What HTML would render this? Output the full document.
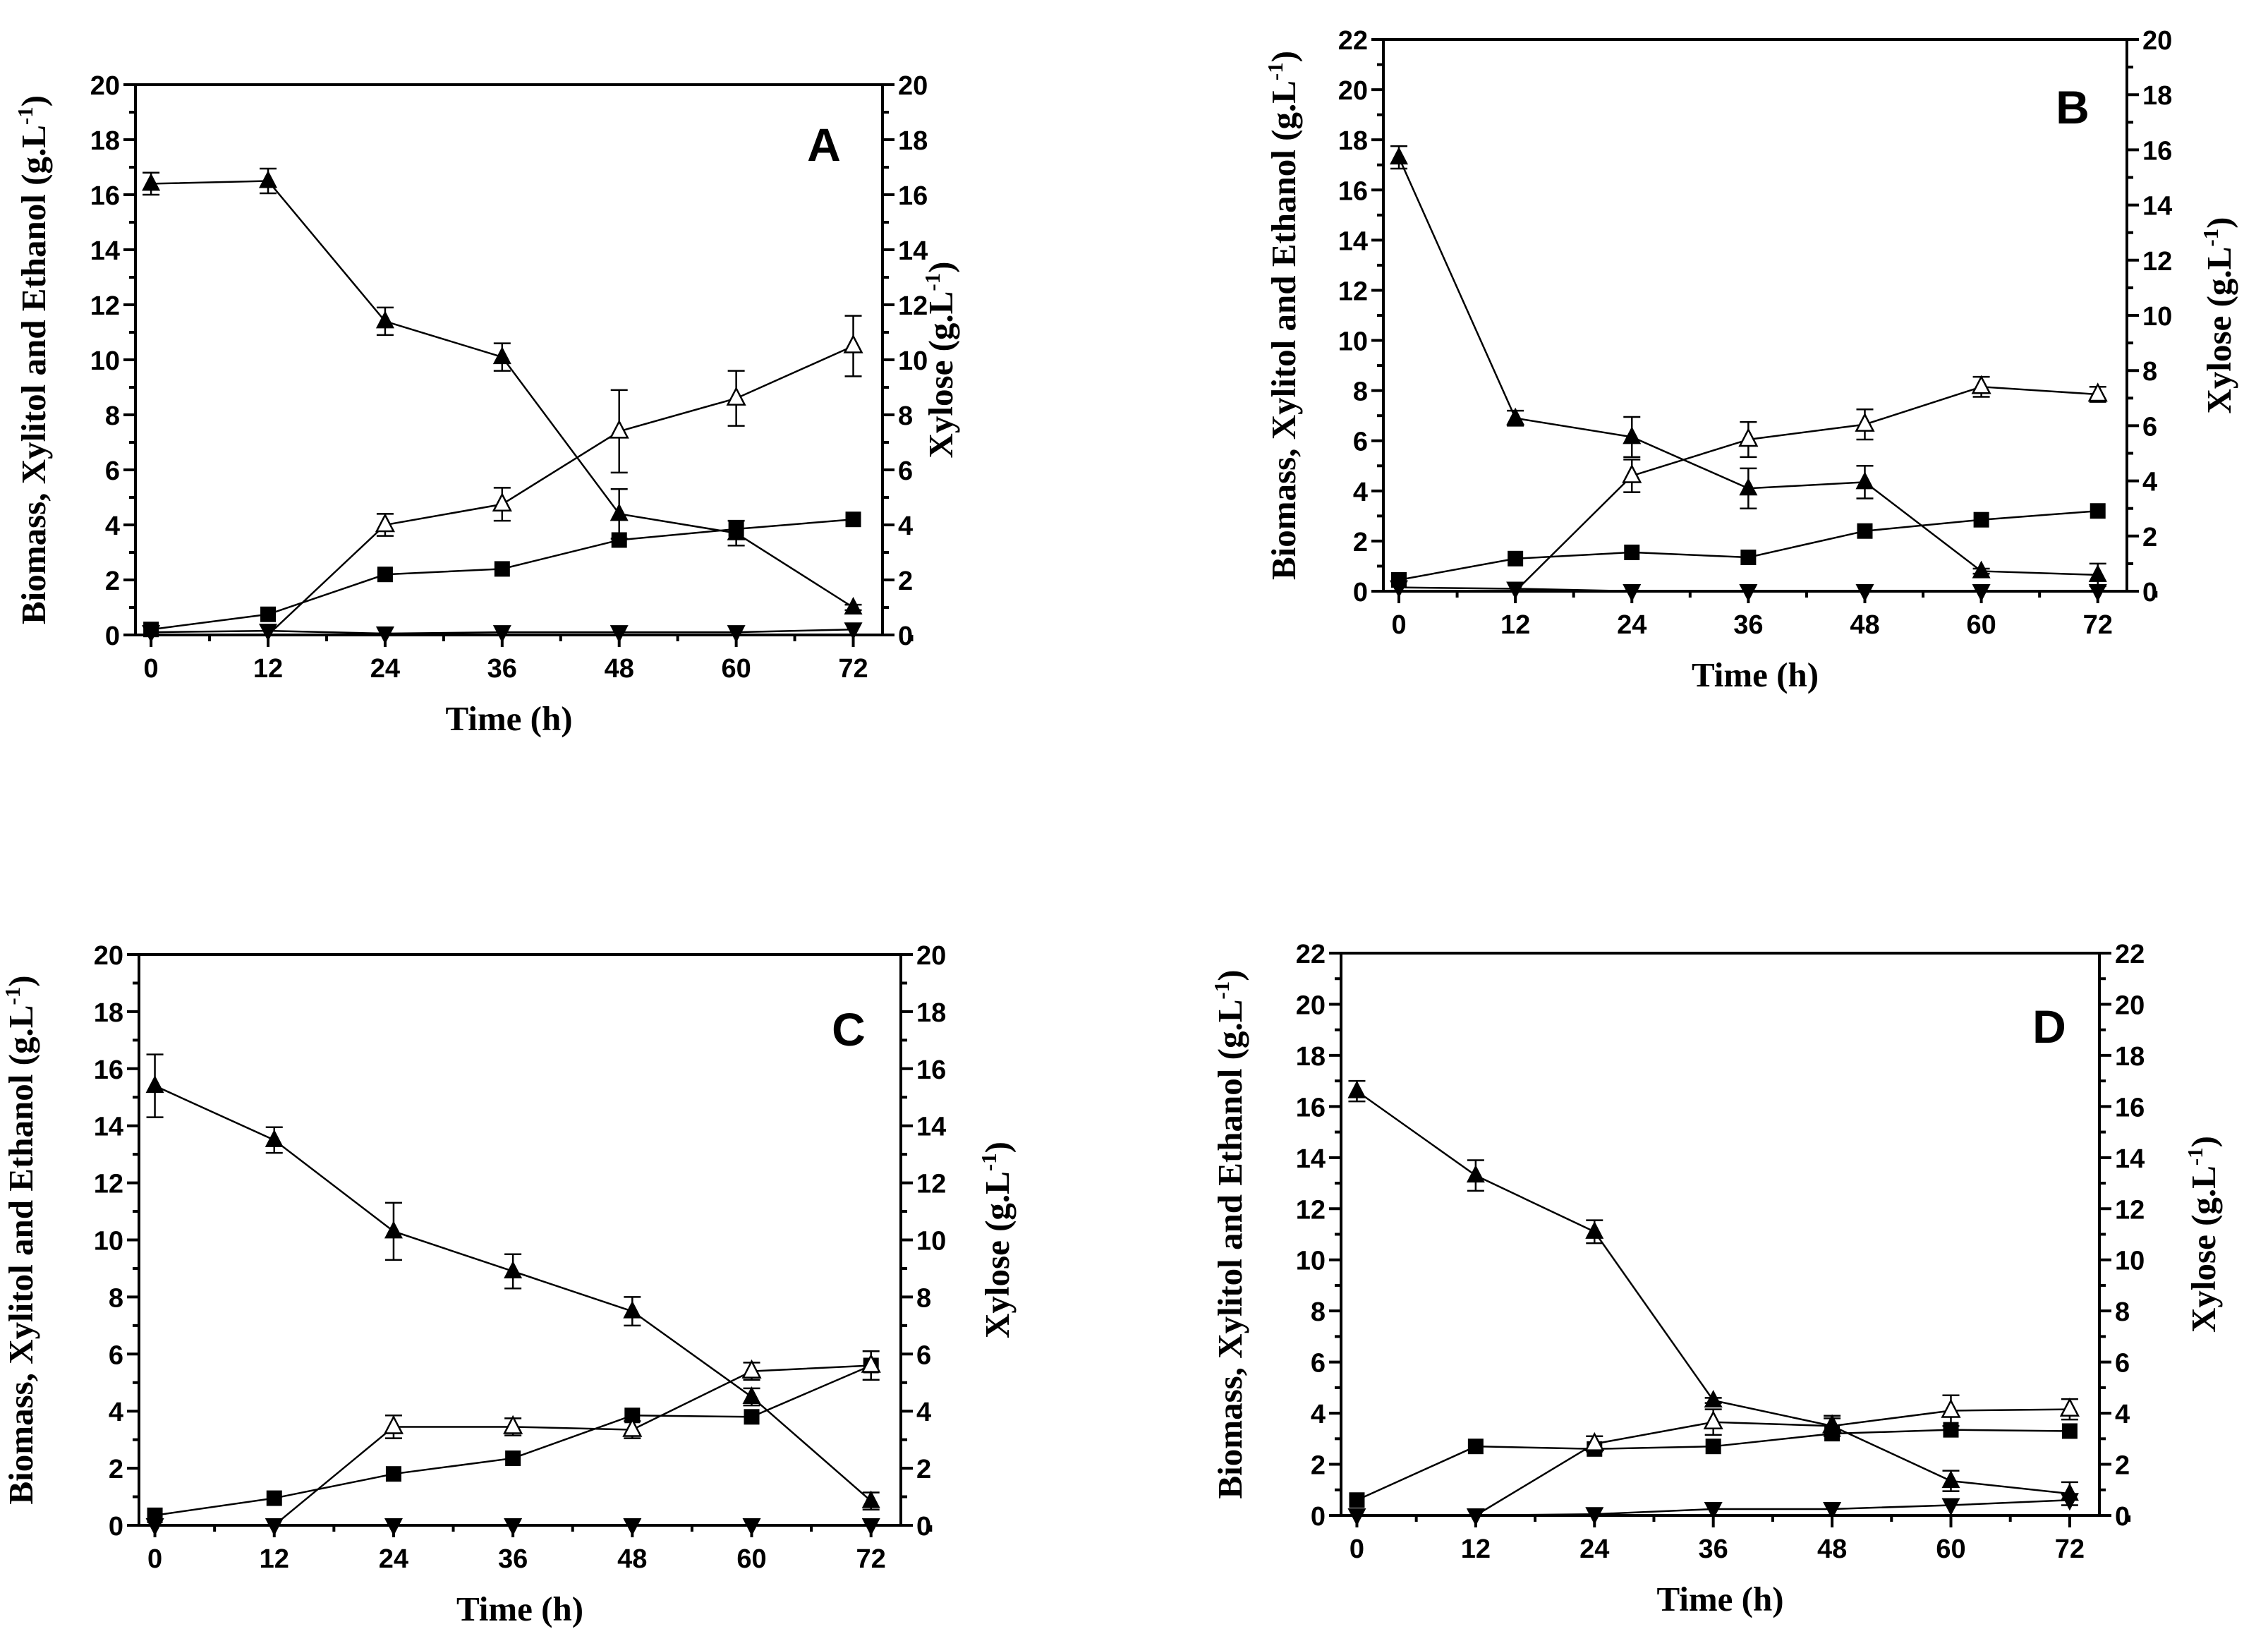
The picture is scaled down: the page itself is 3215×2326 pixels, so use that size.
<!DOCTYPE html>
<html><head><meta charset="utf-8"><style>
html,body{margin:0;padding:0;background:#fff;}
svg{display:block;}
.tk{font-family:"Liberation Sans",Arial,sans-serif;font-weight:bold;font-size:38px;fill:#000;}
.tt{font-family:"Liberation Serif","Times New Roman",serif;font-weight:bold;font-size:49px;fill:#000;}
.pl{font-family:"Liberation Sans",Arial,sans-serif;font-weight:bold;font-size:66px;fill:#000;}
</style></head><body>
<svg id="chart" width="3215" height="2326" viewBox="0 0 3215 2326" xmlns="http://www.w3.org/2000/svg"></svg>
<script>
const timeH = [0, 12, 24, 36, 48, 60, 72];
const xTicks = [0, 12, 24, 36, 48, 60, 72];
// Panel A
const aXylose = [16.4, 16.5, 11.4, 10.1, 4.4, 3.7, 1.0];
const aXyloseErr = [0.4, 0.45, 0.5, 0.5, 0.9, 0.45, 0.1];
const aXylitol = [null, 0, 4.0, 4.75, 7.4, 8.6, 10.5];
const aXylitolErr = [0, 0, 0.4, 0.6, 1.5, 1.0, 1.1];
const aBiomass = [0.2, 0.75, 2.2, 2.4, 3.45, 3.85, 4.2];
const aEthanol = [0.1, 0.15, 0.05, 0.1, 0.1, 0.1, 0.2];
// Panel B
const bXylose = [17.3, 6.9, 6.15, 4.1, 4.35, 0.8, 0.65];
const bXyloseErr = [0.45, 0.3, 0.8, 0.8, 0.65, 0.1, 0.45];
const bXylitol = [null, 0, 4.6, 6.05, 6.65, 8.15, 7.85];
const bXylitolErr = [0, 0, 0.65, 0.7, 0.6, 0.4, 0.3];
const bBiomass = [0.45, 1.3, 1.55, 1.35, 2.4, 2.85, 3.2];
const bEthanol = [0.15, 0.1, 0, 0, 0, 0, 0];
// Panel C
const cXylose = [15.4, 13.5, 10.3, 8.9, 7.5, 4.5, 0.85];
const cXyloseErr = [1.1, 0.45, 1.0, 0.6, 0.5, 0.3, 0.3];
const cXylitol = [null, 0, 3.45, 3.45, 3.35, 5.4, 5.6];
const cXylitolErr = [0, 0, 0.4, 0.3, 0.3, 0.3, 0.5];
const cBiomass = [0.35, 0.95, 1.8, 2.35, 3.85, 3.8, 5.6];
const cEthanol = [0, 0, 0, 0, 0, 0, 0];
// Panel D
const dXylose = [16.6, 13.3, 11.1, 4.5, 3.5, 1.35, 0.85];
const dXyloseErr = [0.4, 0.6, 0.45, 0.1, 0.3, 0.4, 0.45];
const dXylitol = [null, 0, 2.8, 3.65, 3.5, 4.1, 4.15];
const dXylitolErr = [0, 0, 0.3, 0.5, 0.4, 0.6, 0.4];
const dBiomass = [0.6, 2.7, 2.6, 2.7, 3.2, 3.35, 3.3];
const dEthanol = [0, 0, 0.05, 0.25, 0.25, 0.4, 0.6];

const NS = "http://www.w3.org/2000/svg";
const svg = document.getElementById('chart');
function mk(tag, attrs, parent){const e=document.createElementNS(NS,tag);for(const k in attrs)e.setAttribute(k,attrs[k]);(parent||svg).appendChild(e);return e;}

function panel(p){
  const g = mk('g',{});
  
  
  const X = t => p.l + (t - (-1.6)) / 76.6 * (p.r - p.l);
  const YL = v => p.b - v / p.lmax * (p.b - p.t);
  const YR = v => p.b - v / p.rmax * (p.b - p.t);
  const frame = mk('rect',{x:p.l,y:p.t,width:p.r-p.l,height:p.b-p.t,fill:'none',stroke:'#000','stroke-width':4},g);
  
  
  xTicks.forEach((t,i)=>{
    mk('line',{x1:X(t),x2:X(t),y1:p.b,y2:p.b+17,stroke:'#000','stroke-width':4},g);
    mk('line',{x1:X(t+6),x2:X(t+6),y1:p.b,y2:p.b+9,stroke:'#000','stroke-width':4},g);
    const tx = mk('text',{x:X(t),y:p.b+60,'text-anchor':'middle',class:'tk'},g);
    tx.textContent = t;
    
    
  });
  for(let v=0; v<=p.lmax; v+=1){
    const major = v%2===0;
    mk('line',{x1:p.l,x2:p.l-(major?17:9),y1:YL(v),y2:YL(v),stroke:'#000','stroke-width':4},g);
    if(major){const tx=mk('text',{x:p.l-22,y:YL(v)+14,'text-anchor':'end',class:'tk'},g);tx.textContent=v;
      
      }
  }
  for(let v=0; v<=p.rmax; v+=1){
    const major = v%2===0;
    mk('line',{x1:p.r,x2:p.r+(major?17:9),y1:YR(v),y2:YR(v),stroke:'#000','stroke-width':4},g);
    if(major){const tx=mk('text',{x:p.r+22,y:YR(v)+14,'text-anchor':'start',class:'tk'},g);tx.textContent=v;
      
      }
  }
  const xt = mk('text',{x:(p.l+p.r)/2,y:p.b+135,'text-anchor':'middle',class:'tt'},g);
  xt.textContent='Time (h)';
  
  
  const cy=(p.t+p.b)/2;
  const yt = mk('text',{x:0,y:0,'text-anchor':'middle',class:'tt',transform:`translate(${p.ly},${cy}) rotate(-90)`},g);
  yt.innerHTML='Biomass, Xylitol and Ethanol (g.L<tspan dy="-18" font-size="31">-1</tspan><tspan dy="18">)</tspan>';
  
  
  const rt = mk('text',{x:0,y:0,'text-anchor':'middle',class:'tt',transform:`translate(${p.ry},${cy}) rotate(-90)`},g);
  rt.innerHTML='Xylose (g.L<tspan dy="-18" font-size="31">-1</tspan><tspan dy="18">)</tspan>';
  
  
  const lt = mk('text',{x:p.lx,y:p.lyy,'text-anchor':'middle',class:'pl'},g);
  lt.textContent=p.id;
  
  

  const series=[
    {name:'ethanol',vals:p.eth,err:null,m:'down',Y:YL},
    {name:'biomass',vals:p.bio,err:null,m:'sq',Y:YL},
    {name:'xylitol',vals:p.xyl,err:p.xylE,m:'open',Y:YL},
    {name:'xylose',vals:p.xys,err:p.xysE,m:'up',Y:YL}
  ];
  series.forEach(s=>{
    const sg = mk('g',{},g);
    
    
    const pts = timeH.map((t,i)=>s.vals[i]==null?null:(X(t)+','+s.Y(s.vals[i]))).filter(v=>v).join(' ');
    mk('polyline',{points:pts,fill:'none',stroke:'#000','stroke-width':2.5},sg);
    timeH.forEach((t,i)=>{
      if(s.vals[i]==null) return;
      const x=X(t), y=s.Y(s.vals[i]);
      if(s.err && s.err[i]>0){
        const y1=s.Y(s.vals[i]+s.err[i]), y2=s.Y(s.vals[i]-s.err[i]);
        mk('line',{x1:x,x2:x,y1:y1,y2:y2,stroke:'#000','stroke-width':2.5},sg);
        mk('line',{x1:x-12,x2:x+12,y1:y1,y2:y1,stroke:'#000','stroke-width':2.5},sg);
        mk('line',{x1:x-12,x2:x+12,y1:y2,y2:y2,stroke:'#000','stroke-width':2.5},sg);
      }
      if(s.m==='open' && s.vals[i]===0) return;
      let m;
      if(s.m==='sq') m=mk('rect',{x:x-11,y:y-11,width:22,height:22,fill:'#000'},sg);
      else if(s.m==='up') m=mk('polygon',{points:`${x},${y-15} ${x+13},${y+10} ${x-13},${y+10}`,fill:'#000'},sg);
      else if(s.m==='open') m=mk('polygon',{points:`${x},${y-14} ${x+12},${y+9} ${x-12},${y+9}`,fill:'#fff',stroke:'#000','stroke-width':2.5},sg);
      else m=mk('polygon',{points:`${x},${y+15} ${x+13},${y-10} ${x-13},${y-10}`,fill:'#000'},sg);
      
      
    });
  });
}
panel({id:'A',l:192,r:1251,t:120,b:900,lmax:20,rmax:20,ly:64,ry:1350,lx:1168,lyy:228,
  xys:aXylose,xysE:aXyloseErr,xyl:aXylitol,xylE:aXylitolErr,bio:aBiomass,eth:aEthanol});
panel({id:'B',l:1961,r:3015,t:56,b:838,lmax:22,rmax:20,ly:1836,ry:3162,lx:2938,lyy:175,
  xys:bXylose,xysE:bXyloseErr,xyl:bXylitol,xylE:bXylitolErr,bio:bBiomass,eth:bEthanol});
panel({id:'C',l:197,r:1277,t:1353,b:2162,lmax:20,rmax:20,ly:46,ry:1430,lx:1203,lyy:1482,
  xys:cXylose,xysE:cXyloseErr,xyl:cXylitol,xylE:cXylitolErr,bio:cBiomass,eth:cEthanol});
panel({id:'D',l:1901,r:2976,t:1351,b:2148,lmax:22,rmax:22,ly:1760,ry:3140,lx:2905,lyy:1478,
  xys:dXylose,xysE:dXyloseErr,xyl:dXylitol,xylE:dXylitolErr,bio:dBiomass,eth:dEthanol});
</script>
</body></html>
